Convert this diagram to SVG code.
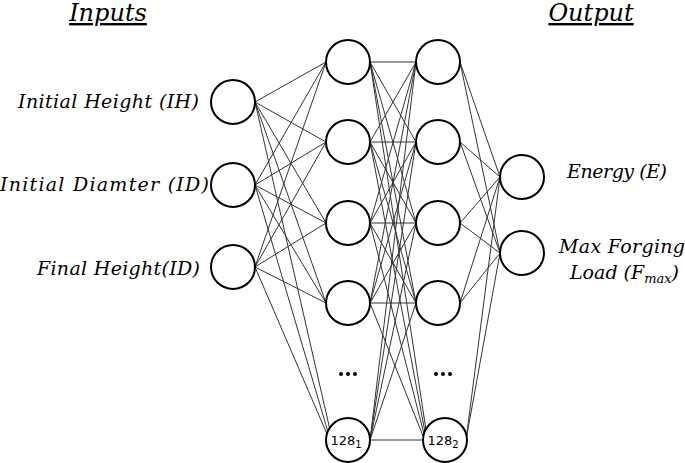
<svg xmlns="http://www.w3.org/2000/svg" width="685" height="463" viewBox="0 0 685 463">
<style>
.n{fill:#fff;stroke:#000;stroke-width:2}
.c line{stroke:#333;stroke-width:1}
.t{font-family:"DejaVu Serif",serif;font-style:italic;font-size:19px;fill:#000}
.h{font-family:"DejaVu Serif",serif;font-style:italic;font-size:24px;fill:#000;text-decoration:underline}
.s{font-family:"DejaVu Sans",sans-serif;font-size:13px;fill:#000}
</style>
<rect width="685" height="463" fill="#fff"/>
<g class="c" id="connectors">
<line x1="255" y1="102" x2="326" y2="62"/><line x1="255" y1="102" x2="326" y2="142"/><line x1="255" y1="102" x2="326" y2="223"/><line x1="255" y1="102" x2="326" y2="303"/><line x1="255" y1="102" x2="330" y2="430"/>
<line x1="255" y1="185" x2="326" y2="62"/><line x1="255" y1="185" x2="326" y2="142"/><line x1="255" y1="185" x2="326" y2="223"/><line x1="255" y1="185" x2="326" y2="303"/><line x1="255" y1="185" x2="328" y2="432"/>
<line x1="255" y1="267" x2="326" y2="62"/><line x1="255" y1="267" x2="326" y2="142"/><line x1="255" y1="267" x2="326" y2="223"/><line x1="255" y1="267" x2="326" y2="303"/><line x1="255" y1="267" x2="327" y2="434"/>
<line x1="370" y1="62" x2="416" y2="62"/><line x1="370" y1="62" x2="416" y2="142"/><line x1="370" y1="62" x2="416" y2="223"/><line x1="370" y1="62" x2="416" y2="303"/><line x1="370" y1="62" x2="426" y2="430"/>
<line x1="370" y1="142" x2="416" y2="62"/><line x1="370" y1="142" x2="416" y2="142"/><line x1="370" y1="142" x2="416" y2="223"/><line x1="370" y1="142" x2="416" y2="303"/><line x1="370" y1="142" x2="425" y2="432"/>
<line x1="370" y1="223" x2="416" y2="62"/><line x1="370" y1="223" x2="416" y2="142"/><line x1="370" y1="223" x2="416" y2="223"/><line x1="370" y1="223" x2="416" y2="303"/><line x1="370" y1="223" x2="424" y2="434"/>
<line x1="370" y1="303" x2="416" y2="62"/><line x1="370" y1="303" x2="416" y2="142"/><line x1="370" y1="303" x2="416" y2="223"/><line x1="370" y1="303" x2="416" y2="303"/><line x1="370" y1="303" x2="423" y2="436"/>
<line x1="370" y1="440" x2="416" y2="62"/><line x1="370" y1="440" x2="416" y2="142"/><line x1="370" y1="440" x2="416" y2="223"/><line x1="370" y1="440" x2="416" y2="303"/><line x1="370" y1="440" x2="423" y2="440"/>
<line x1="460" y1="62" x2="500" y2="177"/><line x1="460" y1="62" x2="500" y2="253"/>
<line x1="460" y1="142" x2="500" y2="177"/><line x1="460" y1="142" x2="500" y2="253"/>
<line x1="460" y1="223" x2="500" y2="177"/><line x1="460" y1="223" x2="500" y2="253"/>
<line x1="460" y1="303" x2="500" y2="177"/><line x1="460" y1="303" x2="500" y2="253"/>
<line x1="466" y1="440" x2="500" y2="177"/><line x1="466" y1="440" x2="500" y2="253"/>
</g>
<g id="in1"><circle class="n" cx="233" cy="102" r="22"/></g>
<g id="in2"><circle class="n" cx="233" cy="185" r="22"/></g>
<g id="in3"><circle class="n" cx="233" cy="267" r="22"/></g>
<g id="h1a"><circle class="n" cx="348" cy="62" r="22"/></g>
<g id="h1b"><circle class="n" cx="348" cy="142" r="22"/></g>
<g id="h1c"><circle class="n" cx="348" cy="223" r="22"/></g>
<g id="h1d"><circle class="n" cx="348" cy="303" r="22"/></g>
<g id="h1e"><circle class="n" cx="348" cy="440" r="22"/><text class="s" x="346" y="445" text-anchor="middle" font-size="14">128<tspan font-size="10" dy="3">1</tspan></text></g>
<g id="h2a"><circle class="n" cx="438" cy="62" r="22"/></g>
<g id="h2b"><circle class="n" cx="438" cy="142" r="22"/></g>
<g id="h2c"><circle class="n" cx="438" cy="223" r="22"/></g>
<g id="h2d"><circle class="n" cx="438" cy="303" r="22"/></g>
<g id="h2e"><circle class="n" cx="445" cy="440" r="22"/><text class="s" x="443" y="445" text-anchor="middle" font-size="14">128<tspan font-size="10" dy="3">2</tspan></text></g>
<g id="o1"><circle class="n" cx="522" cy="177" r="22"/></g>
<g id="o2"><circle class="n" cx="522" cy="253" r="22"/></g>
<g id="dots" fill="#000"><circle cx="341" cy="374" r="2"/><circle cx="348" cy="374" r="2"/><circle cx="355" cy="374" r="2"/><circle cx="436" cy="374" r="2"/><circle cx="443" cy="374" r="2"/><circle cx="450" cy="374" r="2"/></g>
<g id="labels">
<text class="h" x="108" y="21" text-anchor="middle">Inputs</text>
<text class="h" x="591" y="21" text-anchor="middle">Output</text>
<text class="t" x="199" y="108" text-anchor="end" textLength="181">Initial Height (IH)</text>
<text class="t" x="209" y="191" text-anchor="end" textLength="209">Initial Diamter (ID)</text>
<text class="t" x="200" y="275" text-anchor="end" textLength="163">Final Height(ID)</text>
<text class="t" x="567" y="178" textLength="100">Energy (E)</text>
<text class="t" x="559" y="253" textLength="126">Max Forging</text>
<text class="t" x="570" y="279">Load (F<tspan font-size="13" dy="4">max</tspan><tspan dy="-4">)</tspan></text>
</g>
</svg>
